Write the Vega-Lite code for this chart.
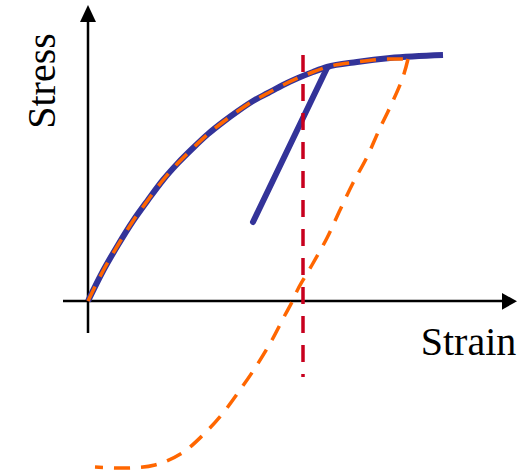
{
  "$schema": "https://vega.github.io/schema/vega-lite/v6.json",
  "width": 525,
  "height": 473,
  "padding": 0,
  "autosize": {"type": "none"},
  "background": "white",
  "config": {"view": {"stroke": null}, "font": "Liberation Serif"},
  "datasets": {
    "axes": [
      {"axis": "y", "x1": 0, "x2": 0, "y1": -32, "y2": 280},
      {"axis": "x", "x1": -25, "x2": 415, "y1": 0, "y2": 0}
    ],
    "arrows": [
      {"dir": "up", "strain": 0, "stress": 287.5},
      {"dir": "right", "strain": 421.5, "stress": -0.3}
    ],
    "curve": [
      {"i": 0, "strain": 0, "stress": 0},
      {"i": 1, "strain": 15, "stress": 30},
      {"i": 2, "strain": 30, "stress": 56},
      {"i": 3, "strain": 45, "stress": 80},
      {"i": 4, "strain": 60, "stress": 101},
      {"i": 5, "strain": 75, "stress": 121},
      {"i": 6, "strain": 90, "stress": 138},
      {"i": 7, "strain": 105, "stress": 153},
      {"i": 8, "strain": 120, "stress": 167},
      {"i": 9, "strain": 135, "stress": 179},
      {"i": 10, "strain": 150, "stress": 190},
      {"i": 11, "strain": 165, "stress": 200},
      {"i": 12, "strain": 180, "stress": 208},
      {"i": 13, "strain": 195, "stress": 216},
      {"i": 14, "strain": 210, "stress": 223},
      {"i": 15, "strain": 225, "stress": 229},
      {"i": 16, "strain": 239, "stress": 234},
      {"i": 17, "strain": 269, "stress": 239},
      {"i": 18, "strain": 302, "stress": 243},
      {"i": 19, "strain": 355, "stress": 246}
    ],
    "unload": [
      {"i": 0, "strain": 239, "stress": 233},
      {"i": 1, "strain": 165, "stress": 79}
    ],
    "modelUp": [
      {"i": 0, "strain": 0, "stress": 0},
      {"i": 1, "strain": 15, "stress": 30},
      {"i": 2, "strain": 30, "stress": 56},
      {"i": 3, "strain": 45, "stress": 80},
      {"i": 4, "strain": 60, "stress": 101},
      {"i": 5, "strain": 75, "stress": 121},
      {"i": 6, "strain": 90, "stress": 138},
      {"i": 7, "strain": 105, "stress": 153},
      {"i": 8, "strain": 120, "stress": 167},
      {"i": 9, "strain": 135, "stress": 179},
      {"i": 10, "strain": 150, "stress": 190},
      {"i": 11, "strain": 165, "stress": 200},
      {"i": 12, "strain": 180, "stress": 208},
      {"i": 13, "strain": 195, "stress": 216},
      {"i": 14, "strain": 210, "stress": 223},
      {"i": 15, "strain": 225, "stress": 229},
      {"i": 16, "strain": 239, "stress": 234},
      {"i": 17, "strain": 269, "stress": 239},
      {"i": 18, "strain": 302, "stress": 242},
      {"i": 19, "strain": 320, "stress": 242}
    ],
    "modelDown": [
      {"i": 0, "strain": 320, "stress": 242},
      {"i": 1, "strain": 315, "stress": 224},
      {"i": 2, "strain": 304, "stress": 198},
      {"i": 3, "strain": 292, "stress": 173},
      {"i": 4, "strain": 279, "stress": 144},
      {"i": 5, "strain": 265, "stress": 118},
      {"i": 6, "strain": 252, "stress": 91},
      {"i": 7, "strain": 239, "stress": 63},
      {"i": 8, "strain": 224, "stress": 36},
      {"i": 9, "strain": 210, "stress": 12},
      {"i": 10, "strain": 204, "stress": -1},
      {"i": 11, "strain": 197, "stress": -14},
      {"i": 12, "strain": 184, "stress": -39},
      {"i": 13, "strain": 169, "stress": -64},
      {"i": 14, "strain": 152, "stress": -89},
      {"i": 15, "strain": 135, "stress": -112},
      {"i": 16, "strain": 115, "stress": -134},
      {"i": 17, "strain": 94, "stress": -152},
      {"i": 18, "strain": 67, "stress": -164},
      {"i": 19, "strain": 40, "stress": -167},
      {"i": 20, "strain": 7, "stress": -166}
    ],
    "limit": [
      {"strain": 215, "top": 246, "bottom": -76}
    ],
    "labels": [
      {"label": "Stress", "strain": -33, "stress": 220, "angle": 270},
      {"label": "Strain", "strain": 380.5, "stress": -54, "angle": 0}
    ]
  },
  "layer": [
    {
      "data": {"name": "axes"},
      "mark": {"type": "rule", "color": "black", "strokeWidth": 2.5},
      "encoding": {
        "x": {"field": "x1", "type": "quantitative", "scale": {"domain": [-88, 437], "nice": false, "zero": false}, "axis": null},
        "x2": {"field": "x2"},
        "y": {"field": "y1", "type": "quantitative", "scale": {"domain": [-172, 301], "nice": false, "zero": false}, "axis": null},
        "y2": {"field": "y2"}
      }
    },
    {
      "data": {"name": "arrows"},
      "transform": [{"filter": "datum.dir === 'up'"}],
      "mark": {"type": "point", "filled": true, "color": "black", "opacity": 1, "size": 256, "shape": "M0,-1.06L-1,1.06L1,1.06Z"},
      "encoding": {
        "x": {"field": "strain", "type": "quantitative", "axis": null},
        "y": {"field": "stress", "type": "quantitative", "axis": null}
      }
    },
    {
      "data": {"name": "arrows"},
      "transform": [{"filter": "datum.dir === 'right'"}],
      "mark": {"type": "point", "filled": true, "color": "black", "opacity": 1, "size": 225, "shape": "M1,0L-1,-1.12L-1,1.12Z"},
      "encoding": {
        "x": {"field": "strain", "type": "quantitative", "axis": null},
        "y": {"field": "stress", "type": "quantitative", "axis": null}
      }
    },
    {
      "data": {"name": "curve"},
      "mark": {"type": "line", "color": "#333399", "strokeWidth": 6, "interpolate": "monotone"},
      "encoding": {
        "x": {"field": "strain", "type": "quantitative", "axis": null},
        "y": {"field": "stress", "type": "quantitative", "axis": null},
        "order": {"field": "i"}
      }
    },
    {
      "data": {"name": "unload"},
      "mark": {"type": "line", "color": "#333399", "strokeWidth": 6, "strokeCap": "round"},
      "encoding": {
        "x": {"field": "strain", "type": "quantitative", "axis": null},
        "y": {"field": "stress", "type": "quantitative", "axis": null},
        "order": {"field": "i"}
      }
    },
    {
      "data": {"name": "modelUp"},
      "mark": {"type": "line", "color": "#ff6600", "strokeWidth": 3.5, "strokeDash": [16, 11], "interpolate": "monotone"},
      "encoding": {
        "x": {"field": "strain", "type": "quantitative", "axis": null},
        "y": {"field": "stress", "type": "quantitative", "axis": null},
        "order": {"field": "i"}
      }
    },
    {
      "data": {"name": "modelDown"},
      "mark": {"type": "line", "color": "#ff6600", "strokeWidth": 3.5, "strokeDash": [16, 11], "interpolate": "catmull-rom"},
      "encoding": {
        "x": {"field": "strain", "type": "quantitative", "axis": null},
        "y": {"field": "stress", "type": "quantitative", "axis": null},
        "order": {"field": "i"}
      }
    },
    {
      "data": {"name": "limit"},
      "mark": {"type": "rule", "color": "#c8001e", "strokeWidth": 3.5, "strokeDash": [17, 12]},
      "encoding": {
        "x": {"field": "strain", "type": "quantitative", "axis": null},
        "y": {"field": "top", "type": "quantitative", "axis": null},
        "y2": {"field": "bottom"}
      }
    },
    {
      "data": {"name": "labels"},
      "mark": {"type": "text", "font": "Liberation Serif", "fontSize": 40, "align": "center", "baseline": "alphabetic", "color": "black"},
      "encoding": {
        "x": {"field": "strain", "type": "quantitative", "axis": null},
        "y": {"field": "stress", "type": "quantitative", "axis": null},
        "text": {"field": "label"},
        "angle": {"field": "angle", "type": "quantitative", "scale": null}
      }
    }
  ]
}
